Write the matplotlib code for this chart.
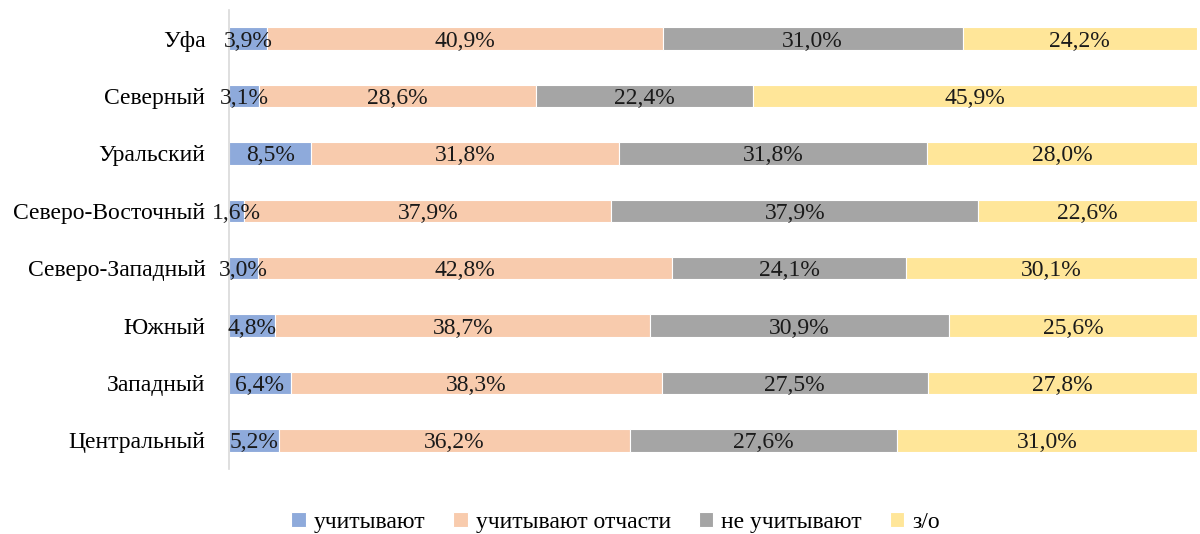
import matplotlib
matplotlib.use("Agg")
import matplotlib.pyplot as plt
import numpy as np

plt.rcParams["font.family"] = ["Liberation Serif", "DejaVu Serif"]

regions = ["Уфа", "Северный", "Уральский", "Северо-Восточный",
           "Северо-Западный", "Южный", "Западный", "Центральный"]
series_names = ["учитывают", "учитывают отчасти", "не учитывают", "з/о"]
uchityvayut = [3.9, 3.1, 8.5, 1.6, 3.0, 4.8, 6.4, 5.2]
otchasti = [40.9, 28.6, 31.8, 37.9, 42.8, 38.7, 38.3, 36.2]
ne_uchityvayut = [31.0, 22.4, 31.8, 37.9, 24.1, 30.9, 27.5, 27.6]
zo = [24.2, 45.9, 28.0, 22.6, 30.1, 25.6, 27.8, 31.0]

COLORS = ["#8eaadb", "#f8cbad", "#a5a5a5", "#ffe699"]
FS = 17

fig = plt.figure(figsize=(12, 5.34), dpi=100)
ax = fig.add_axes([0.1908, 0.1217, 0.8067, 0.8596])

y = np.arange(len(regions))
left = np.zeros(len(regions))
for name, vals, color in zip(series_names,
                             [uchityvayut, otchasti, ne_uchityvayut, zo],
                             COLORS):
    vals = np.array(vals)
    ax.barh(y, vals, left=left, height=0.39, color=color,
            edgecolor="white", linewidth=0.8, label=name)
    for yi, l, v in zip(y, left, vals):
        ax.text(l + v / 2, yi, f"{v:.1f}%".replace(".", ","),
                ha="center", va="center_baseline", fontsize=FS,
                color="#1a1a1a")
    left += vals

ax.set_ylim(len(regions) - 0.5, -0.5)
ax.set_xlim(0, 100)
ax.set_yticks(y)
ax.set_yticklabels(regions, fontsize=FS, va="center_baseline")
ax.tick_params(axis="y", length=0, pad=17)
ax.set_xticks([])
for s in ("top", "right", "bottom"):
    ax.spines[s].set_visible(False)
ax.spines["left"].set_color("#d9d9d9")
ax.spines["left"].set_linewidth(1.2)

fig.legend(loc="center", bbox_to_anchor=(0.513, 0.022), ncol=4,
           frameon=False, fontsize=FS, handlelength=0.6, handleheight=0.6,
           handletextpad=0.35, columnspacing=1.18)

fig.savefig("out.png", dpi=100)
